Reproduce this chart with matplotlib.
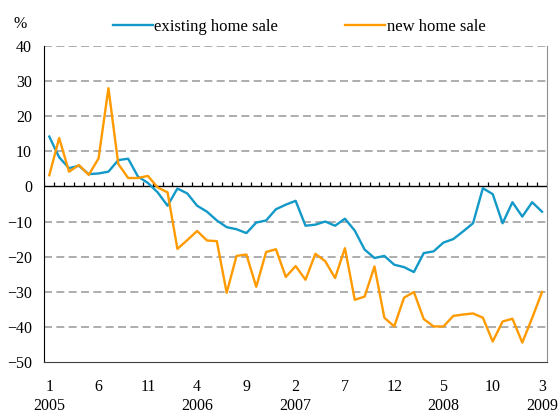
import matplotlib
matplotlib.use("Agg")
from matplotlib import pyplot as plt
import numpy as np

# monthly change in home sales, Jan 2005 .. Mar 2009 (%)
existing = [14.2, 8.3, 5.2, 5.9, 3.5, 3.7, 4.2, 7.5, 7.9, 2.8, 1.0, -1.7, -5.5, -0.6,
            -2.0, -5.5, -7.2, -9.7, -11.6, -12.2, -13.3, -10.3, -9.7, -6.5, -5.2, -4.1,
            -11.2, -10.9, -10.0, -11.2, -9.2, -12.6, -18.0, -20.4, -19.8, -22.3, -23.0,
            -24.4, -19.0, -18.5, -16.0, -15.0, -12.8, -10.5, -0.5, -2.2, -10.5, -4.5,
            -8.6, -4.5, -7.2]
new = [3.2, 13.8, 4.2, 6.1, 3.3, 8.0, 28.0, 6.4, 2.4, 2.4, 3.0, -0.3, -1.7, -17.8,
       -15.3, -12.7, -15.4, -15.6, -30.3, -19.8, -19.4, -28.6, -18.7, -17.9, -25.8,
       -22.7, -26.6, -19.2, -21.3, -26.1, -17.6, -32.3, -31.4, -22.8, -37.4, -39.9,
       -31.7, -30.1, -37.8, -39.9, -39.9, -36.9, -36.5, -36.2, -37.4, -44.2, -38.5,
       -37.7, -44.5, -37.5, -30.1]
month_labels = ["1", "6", "11", "4", "9", "2", "7", "12", "5", "10", "3"]
year_labels = {0: "2005", 15: "2006", 25: "2007", 40: "2008", 50: "2009"}

plt.rcParams['font.family'] = ['Liberation Serif', 'DejaVu Serif']
plt.rcParams['font.size'] = 11.5

fig = plt.figure(figsize=(5.59, 4.15), dpi=100)
ax = fig.add_axes([0.0794, 0.128, 0.899, 0.761])

x = np.arange(len(existing))
blue = '#1399c8'
orange = '#ff9a00'

# dashed grid lines (not at zero, zero gets the axis line)
for g in range(-40, 41, 10):
    if g != 0:
        ax.axhline(g, color='#a0a0a0', lw=1.2, linestyle=(0, (4.8, 2.6)), zorder=1)

ax.axhline(0, color='black', lw=1.0, zorder=2)
# little tick marks sitting on the zero line, at month boundaries
ax.vlines(np.arange(len(existing) + 1) - 0.5, 0, 1.2, color='black', lw=0.9, zorder=2)

ax.plot(x, existing, color=blue, lw=1.7, label='existing home sale', zorder=3)
ax.plot(x, new, color=orange, lw=1.7, label='new home sale', zorder=3)

ax.set_xlim(-0.5, len(existing) - 0.5)
ax.set_ylim(-50, 40)
ax.set_yticks(range(-50, 41, 10))
ax.set_xticks(range(0, len(existing), 5))
ax.set_xticklabels(month_labels)
ax.tick_params(axis='x', length=0, pad=12)
ax.tick_params(axis='y', length=0, pad=9)

for i, yr in year_labels.items():
    ax.text(i, -0.141, yr, transform=ax.get_xaxis_transform(), ha='center', va='center')

ax.spines['top'].set_visible(False)
ax.spines['right'].set_color('#909090')
ax.spines['left'].set_color('black')
ax.spines['bottom'].set_color('#404040')

fig.text(13 / 559, 1 - 24 / 415, '%', ha='left', va='center')
fig.legend(loc='center', bbox_to_anchor=(0.535, 0.935), ncol=2, frameon=False,
           handlelength=2.4, handletextpad=0.1, columnspacing=4.0, fontsize=12)

fig.savefig('out.png', dpi=100)
